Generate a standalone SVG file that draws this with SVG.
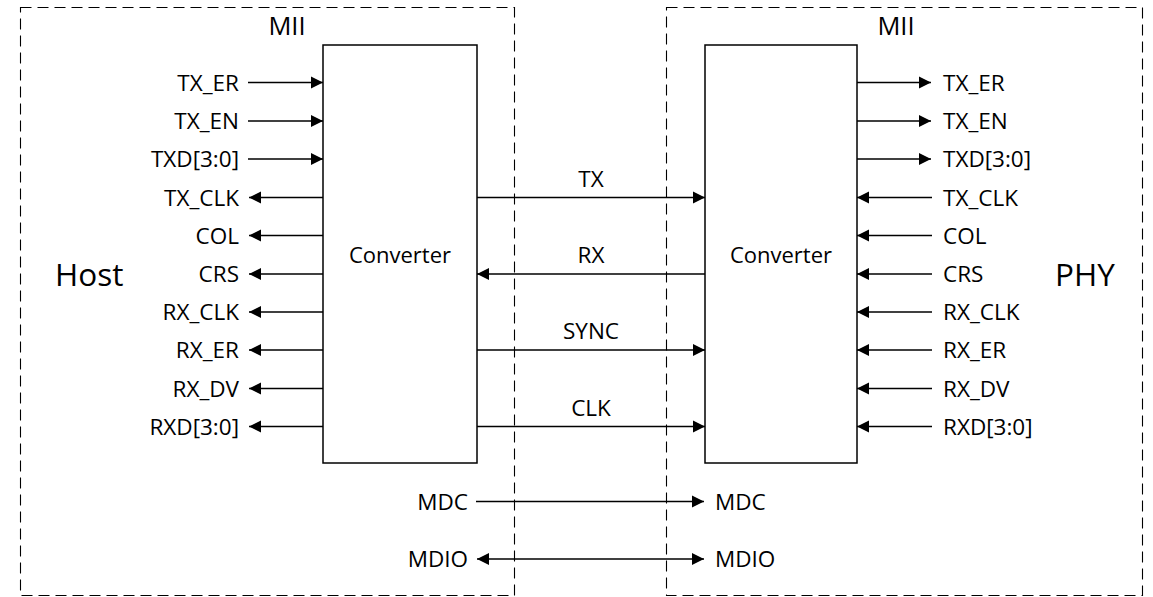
<svg xmlns="http://www.w3.org/2000/svg" width="1153" height="597" viewBox="0 0 1153 597">
<defs>
<marker id="ah" markerUnits="userSpaceOnUse" markerWidth="14" markerHeight="14" viewBox="0 -7 14 14" refX="12" refY="0" orient="auto-start-reverse">
<path d="M0,-6 L12,0 L0,6 z" fill="#000"/>
</marker>
<style>
.dash{fill:none;stroke:#000;stroke-width:1.1;stroke-dasharray:11 6}
.box{fill:#fff;stroke:#000;stroke-width:1.5}
.w{fill:none;stroke:#000;stroke-width:1.5}
.a{marker-end:url(#ah)}
.b{marker-start:url(#ah)}
text{font-family:"Open Sans","Liberation Sans",sans-serif;font-size:22.5px;fill:#000}
.r{text-anchor:end}
.m{text-anchor:middle}
.cv{font-size:22px}
.big{font-size:31.5px}
.mii{font-size:25.5px}
</style>
</defs>
<rect width="1153" height="597" fill="#fff"/>
<g id="host">
<rect class="dash" x="20.5" y="7.5" width="494" height="588"/>
<text class="big" x="55" y="286">Host</text>
<text class="mii m" x="287" y="35">MII</text>
</g>
<g id="phy">
<rect class="dash" x="666.5" y="7.5" width="476" height="588"/>
<text class="big" x="1055" y="286">PHY</text>
<text class="mii m" x="896" y="35">MII</text>
</g>
<g id="conv-left">
<rect class="box" x="323" y="45" width="154" height="418"/>
<text class="m cv" x="400" y="263">Converter</text>
</g>
<g id="conv-right">
<rect class="box" x="705" y="45" width="152" height="418"/>
<text class="m cv" x="781" y="263">Converter</text>
</g>
<g id="connectors">
<line class="w a" x1="248" y1="82.5" x2="323" y2="82.5"/>
<line class="w a" x1="248" y1="121" x2="323" y2="121"/>
<line class="w a" x1="248" y1="159" x2="323" y2="159"/>
<line class="w a" x1="323" y1="197.5" x2="249" y2="197.5"/>
<line class="w a" x1="323" y1="235.5" x2="249" y2="235.5"/>
<line class="w a" x1="323" y1="274" x2="249" y2="274"/>
<line class="w a" x1="323" y1="312" x2="249" y2="312"/>
<line class="w a" x1="323" y1="350" x2="249" y2="350"/>
<line class="w a" x1="323" y1="388.5" x2="249" y2="388.5"/>
<line class="w a" x1="323" y1="426.5" x2="249" y2="426.5"/>
<line class="w a" x1="857" y1="82.5" x2="931" y2="82.5"/>
<line class="w a" x1="857" y1="121" x2="931" y2="121"/>
<line class="w a" x1="857" y1="159" x2="931" y2="159"/>
<line class="w a" x1="932" y1="197.5" x2="857" y2="197.5"/>
<line class="w a" x1="932" y1="235.5" x2="857" y2="235.5"/>
<line class="w a" x1="932" y1="274" x2="857" y2="274"/>
<line class="w a" x1="932" y1="312" x2="857" y2="312"/>
<line class="w a" x1="932" y1="350" x2="857" y2="350"/>
<line class="w a" x1="932" y1="388.5" x2="857" y2="388.5"/>
<line class="w a" x1="932" y1="426.5" x2="857" y2="426.5"/>
<line class="w a" x1="477" y1="197.5" x2="705" y2="197.5"/>
<line class="w a" x1="705" y1="274" x2="477" y2="274"/>
<line class="w a" x1="477" y1="350" x2="705" y2="350"/>
<line class="w a" x1="477" y1="426.5" x2="705" y2="426.5"/>
<line class="w a" x1="476" y1="501.5" x2="704" y2="501.5"/>
<line class="w a b" x1="477" y1="559" x2="704" y2="559"/>
</g>
<g id="labels">
<text class="r" x="239" y="90.5">TX_ER</text>
<text class="r" x="239" y="129">TX_EN</text>
<text class="r" x="239" y="167">TXD[3:0]</text>
<text class="r" x="239" y="205.5">TX_CLK</text>
<text class="r" x="239" y="243.5">COL</text>
<text class="r" x="239" y="282">CRS</text>
<text class="r" x="239" y="320">RX_CLK</text>
<text class="r" x="239" y="358">RX_ER</text>
<text class="r" x="239" y="396.5">RX_DV</text>
<text class="r" x="239" y="434.5">RXD[3:0]</text>
<text x="943" y="90.5">TX_ER</text>
<text x="943" y="129">TX_EN</text>
<text x="943" y="167">TXD[3:0]</text>
<text x="943" y="205.5">TX_CLK</text>
<text x="943" y="243.5">COL</text>
<text x="943" y="282">CRS</text>
<text x="943" y="320">RX_CLK</text>
<text x="943" y="358">RX_ER</text>
<text x="943" y="396.5">RX_DV</text>
<text x="943" y="434.5">RXD[3:0]</text>
<text class="m" x="591" y="186.5">TX</text>
<text class="m" x="591" y="262.5">RX</text>
<text class="m" x="591" y="339">SYNC</text>
<text class="m" x="591" y="415.5">CLK</text>
<text class="r" x="468" y="509.5">MDC</text>
<text x="715" y="509.5">MDC</text>
<text class="r" x="468" y="567">MDIO</text>
<text x="715" y="567">MDIO</text>
</g>
</svg>
